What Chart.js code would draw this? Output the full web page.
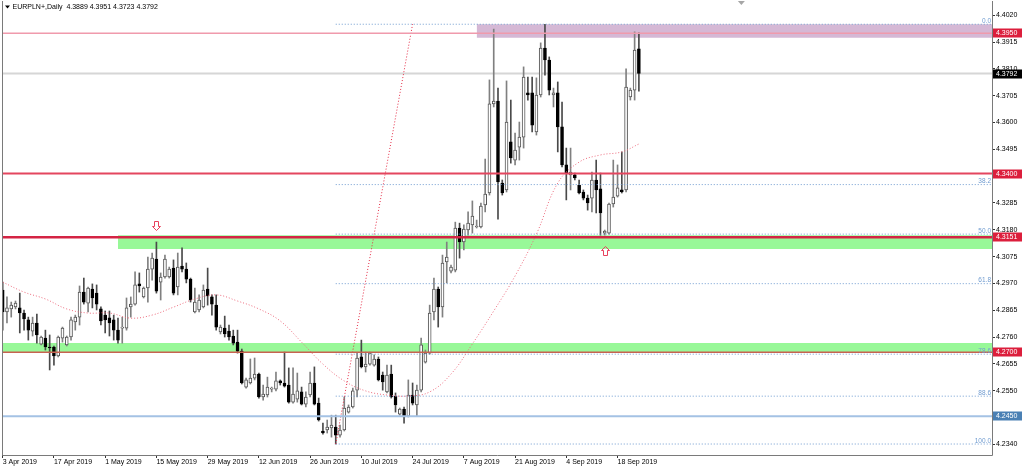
<!DOCTYPE html>
<html>
<head>
<meta charset="utf-8">
<script src="https://cdn.jsdelivr.net/npm/chart.js@4/dist/chart.umd.min.js"></script>
<style>
  html, body { margin: 0; padding: 0; background: #fff; }
</style>
</head>
<body>
<canvas id="chart" width="1024" height="469"></canvas>
<script>
// EURPLN+ daily candles, 3 Apr 2019 -> 19 Sep 2019 (broker with 6 bars a week)
const opens = [
  4.2944,4.2858,4.2870,4.2878,4.2874,4.2854,4.2827,4.2783,4.2815,4.2732,
  4.2756,4.2721,4.2721,4.2686,4.2756,4.2729,4.2760,4.2819,4.2838,4.2936,
  4.2893,4.2948,4.2932,4.2870,4.2846,4.2835,4.2827,4.2787,4.2795,4.2795,
  4.2878,4.2889,4.2968,4.2917,4.2952,4.3026,4.3065,4.2975,4.2995,4.2995,
  4.3030,4.2956,4.3038,4.3026,4.2987,4.2858,4.2866,4.2878,4.2948,4.2917,
  4.2885,4.2780,4.2795,4.2783,4.2764,4.2740,4.2705,4.2564,4.2580,4.2599,
  4.2615,4.2525,4.2533,4.2556,4.2556,4.2588,4.2580,4.2572,4.2505,4.2517,
  4.2545,4.2497,4.2533,4.2580,4.2501,4.2392,4.2396,4.2404,4.2407,4.2376,
  4.2396,4.2466,4.2486,4.2552,4.2682,4.2643,4.2654,4.2650,4.2674,4.2611,
  4.2545,4.2615,4.2529,4.2458,4.2478,4.2450,4.2533,4.2494,4.2552,4.2662,
  4.2697,4.2858,4.2948,4.2878,4.3054,4.3018,4.3022,4.3187,4.3132,4.3179,
  4.3199,4.3191,4.3191,4.3277,4.3324,4.3673,4.3684,4.3363,4.3336,4.3524,
  4.3453,4.3504,4.3543,4.3716,4.3716,4.3563,4.3708,4.3892,4.3845,4.3708,
  4.3716,4.3583,4.3434,4.3395,4.3395,4.3355,4.3328,4.3304,4.3304,4.3375,
  4.3340,4.3167,4.3167,4.3281,4.3312,4.3336,4.3336,4.3700,4.3727,4.3889
];
const highs = [
  4.2975,4.2917,4.2897,4.2901,4.2932,4.2866,4.2838,4.2838,4.2850,4.2764,
  4.2787,4.2768,4.2725,4.2764,4.2799,4.2764,4.2838,4.2846,4.2960,4.2991,
  4.2956,4.2968,4.2964,4.2878,4.2862,4.2862,4.2846,4.2834,4.2838,4.2913,
  4.2917,4.3015,4.3011,4.2956,4.3073,4.3089,4.3132,4.3011,4.3081,4.3034,
  4.3062,4.3089,4.3109,4.3050,4.2991,4.2952,4.2925,4.2964,4.3030,4.2925,
  4.2925,4.2807,4.2842,4.2807,4.2787,4.2787,4.2713,4.2599,4.2674,4.2678,
  4.2619,4.2572,4.2603,4.2564,4.2623,4.2592,4.2701,4.2639,4.2639,4.2619,
  4.2564,4.2545,4.2623,4.2643,4.2521,4.2423,4.2435,4.2454,4.2454,4.2415,
  4.2525,4.2494,4.2560,4.2697,4.2748,4.2701,4.2701,4.2690,4.2682,4.2623,
  4.2650,4.2650,4.2541,4.2482,4.2486,4.2592,4.2580,4.2572,4.2756,4.2709,
  4.2885,4.2991,4.2956,4.3081,4.3132,4.3042,4.3210,4.3206,4.3199,4.3250,
  4.3293,4.3218,4.3285,4.3457,4.3767,4.3966,4.3735,4.3375,4.3763,4.3688,
  4.3559,4.3602,4.3818,4.3778,4.3778,4.3775,4.3912,4.3985,4.3857,4.3735,
  4.3759,4.3680,4.3500,4.3500,4.3402,4.3375,4.3336,4.3316,4.3406,4.3453,
  4.3402,4.3179,4.3285,4.3453,4.3434,4.3485,4.3810,4.3735,4.3955,4.3951
];
const lows = [
  4.2787,4.2815,4.2838,4.2870,4.2776,4.2787,4.2748,4.2764,4.2736,4.2729,
  4.2709,4.2631,4.2650,4.2682,4.2740,4.2725,4.2748,4.2787,4.2807,4.2889,
  4.2858,4.2874,4.2866,4.2807,4.2776,4.2764,4.2748,4.2736,4.2736,4.2787,
  4.2838,4.2885,4.2936,4.2913,4.2897,4.2983,4.2932,4.2905,4.2991,4.2991,
  4.2925,4.2925,4.3015,4.2972,4.2897,4.2854,4.2858,4.2874,4.2885,4.2846,
  4.2787,4.2772,4.2760,4.2748,4.2729,4.2697,4.2576,4.2560,4.2576,4.2592,
  4.2521,4.2513,4.2525,4.2545,4.2549,4.2572,4.2564,4.2501,4.2501,4.2505,
  4.2494,4.2486,4.2525,4.2494,4.2431,4.2380,4.2384,4.2368,4.2341,4.2368,
  4.2392,4.2462,4.2482,4.2525,4.2639,4.2623,4.2650,4.2646,4.2588,4.2552,
  4.2541,4.2521,4.2466,4.2454,4.2423,4.2447,4.2494,4.2450,4.2545,4.2658,
  4.2693,4.2827,4.2799,4.2838,4.2972,4.3011,4.3015,4.3069,4.3101,4.3159,
  4.3167,4.3187,4.3187,4.3250,4.3316,4.3661,4.3222,4.3316,4.3328,4.3441,
  4.3434,4.3453,4.3500,4.3688,4.3563,4.3551,4.3700,4.3786,4.3708,4.3661,
  4.3485,4.3426,4.3297,4.3336,4.3375,4.3320,4.3297,4.3257,4.3250,4.3246,
  4.3159,4.3159,4.3163,4.3269,4.3308,4.3324,4.3328,4.3688,4.3688,4.3723
];
const closes = [
  4.2858,4.2874,4.2885,4.2893,4.2854,4.2831,4.2787,4.2815,4.2768,4.2760,
  4.2721,4.2717,4.2686,4.2760,4.2795,4.2760,4.2827,4.2838,4.2936,4.2897,
  4.2952,4.2913,4.2889,4.2823,4.2827,4.2815,4.2787,4.2748,4.2799,4.2874,
  4.2889,4.2964,4.2960,4.2952,4.3026,4.3069,4.2940,4.2995,4.3065,4.3026,
  4.2932,4.3034,4.3026,4.2987,4.2905,4.2897,4.2905,4.2944,4.2921,4.2889,
  4.2799,4.2799,4.2772,4.2760,4.2736,4.2705,4.2580,4.2592,4.2599,4.2615,
  4.2525,4.2537,4.2564,4.2560,4.2588,4.2580,4.2568,4.2505,4.2537,4.2549,
  4.2497,4.2525,4.2580,4.2497,4.2435,4.2384,4.2407,4.2415,4.2376,4.2396,
  4.2482,4.2486,4.2549,4.2678,4.2643,4.2654,4.2697,4.2674,4.2592,4.2584,
  4.2611,4.2525,4.2494,4.2478,4.2447,4.2533,4.2501,4.2552,4.2729,4.2697,
  4.2854,4.2948,4.2878,4.3050,4.3073,4.3034,4.3187,4.3132,4.3183,4.3206,
  4.3234,4.3195,4.3273,4.3320,4.3673,4.3684,4.3367,4.3324,4.3602,4.3461,
  4.3492,4.3543,4.3778,4.3708,4.3590,4.3708,4.3892,4.3845,4.3727,4.3716,
  4.3583,4.3434,4.3402,4.3406,4.3383,4.3324,4.3304,4.3285,4.3375,4.3336,
  4.3246,4.3175,4.3281,4.3308,4.3344,4.3328,4.3739,4.3727,4.3884,4.3792
];

// moving average read at a few bars
const maIdx = [0,5,10,15,20,25,30,35,40,45,50,55,60,65,70,75,80,85,90,95,100,105,110,115,120,125,130,135,140,145,149];
const maVal = [4.2975,4.2936,4.2909,4.2870,4.2854,4.2854,4.2834,4.2846,4.2877,4.2909,4.2925,4.2901,4.2870,4.2823,4.2740,
               4.2654,4.2588,4.2549,4.2533,4.2529,4.2545,4.2615,4.2733,4.2862,4.2999,4.3163,4.3363,4.3445,4.3473,4.3485,4.3516];

// x axis
const dateIdx = [0,12,24,36,48,60,72,84,96,108,120,132,144];
const dateLabels = ["3 Apr 2019","17 Apr 2019","1 May 2019","15 May 2019","29 May 2019","12 Jun 2019","26 Jun 2019",
                    "10 Jul 2019","24 Jul 2019","7 Aug 2019","21 Aug 2019","4 Sep 2019","18 Sep 2019"];
// y axis
const yTicks = [4.4020,4.3915,4.3810,4.3705,4.3600,4.3495,4.3390,4.3285,4.3180,4.3075,4.2970,4.2865,4.2760,4.2655,4.2550,4.2445,4.2340];

// horizontal levels drawn on the chart
const levelVals   = [4.3950, 4.3792, 4.3400, 4.3151, 4.2700, 4.2450];
const levelColors = ['#f09aac', '#d6d6d6', '#e4465f', '#d42444', '#c76250', '#a4c2e4'];
const levelWidths = [1.5, 2, 2, 2.5, 1.5, 2];
const levelBoxes  = ['#dc1e3c', '#000000', '#dc1e3c', '#dc1e3c', '#dc1e3c', '#4a80b4'];

// zones (start bar, top, bottom); null start = left edge
const zoneFrom   = [111, 27, null];
const zoneTop    = [4.3985, 4.3159, 4.2737];
const zoneBottom = [4.3932, 4.3105, 4.2701];
const zoneColors = ['#d5b8d5', '#98f898', '#98f898'];

// fibonacci retracement
const fibLow = 4.2341, fibHigh = 4.3985;
const fibStart = 78, fibEnd = 96;
const fibLevels = [0, 38.2, 50, 61.8, 78.6, 88.6, 100];

// arrows
const arrowIdx = [36, 141];
const arrowVal = [4.3195, 4.3101];
const arrowUp  = [false, true];

const shiftBar = 173;
const X_MIN = -0.164, X_MAX = 231.7;
const Y_MIN = 4.2298, Y_MAX = 4.4076;
const FONT = "'Liberation Sans', Arial, sans-serif";

const bull = opens.map((o, i) => closes[i] >= o);
const lastI = closes.length - 1;

const datasets = [];

zoneFrom.forEach((f, k) => {
  datasets.push({
    type: 'line',
    data: [{x: f === null ? X_MIN : f, y: zoneTop[k]}, {x: X_MAX, y: zoneTop[k]}],
    fill: {value: zoneBottom[k]},
    backgroundColor: zoneColors[k],
    borderWidth: 0, pointRadius: 0,
    order: 30
  });
});

// bid line behind the candles
datasets.push({
  type: 'line',
  data: [{x: X_MIN, y: levelVals[1]}, {x: X_MAX, y: levelVals[1]}],
  borderColor: levelColors[1], borderWidth: levelWidths[1], pointRadius: 0, order: 25
});

// wicks
datasets.push({
  type: 'bar',
  data: lows.map((l, i) => ({x: i, y: [l, highs[i]]})),
  backgroundColor: bull.map(b => b ? '#808080' : '#4a4a4a'),
  barThickness: 1, grouped: false, order: 11
});
// bodies
datasets.push({
  type: 'bar',
  data: opens.map((o, i) => ({x: i, y: [o, closes[i]]})),
  backgroundColor: bull.map(b => b ? '#ffffff' : '#000000'),
  borderColor: bull.map(b => b ? '#555555' : '#000000'),
  borderWidth: 1, borderSkipped: false, minBarLength: 1,
  barThickness: 3, grouped: false, order: 10
});

// moving average
datasets.push({
  type: 'line',
  data: maIdx.map((v, i) => ({x: v, y: maVal[i]})),
  borderColor: '#ec6a7c', borderWidth: 1, borderDash: [1, 2],
  pointRadius: 0, tension: 0.4, order: 5
});

// fib levels + trend line
fibLevels.forEach(p => {
  const v = fibHigh - p / 100 * (fibHigh - fibLow);
  datasets.push({
    type: 'line',
    data: [{x: fibStart, y: v}, {x: X_MAX, y: v}],
    borderColor: '#6f9bd0', borderWidth: 1, borderDash: [1, 2],
    pointRadius: 0, order: 6
  });
});
datasets.push({
  type: 'line',
  data: [{x: fibStart, y: fibLow}, {x: fibEnd, y: fibHigh}],
  borderColor: '#e42a44', borderWidth: 1, borderDash: [1, 2],
  pointRadius: 0, order: 4
});

// horizontal levels on top
levelVals.forEach((v, k) => {
  if (k === 1) return;
  datasets.push({
    type: 'line',
    data: [{x: X_MIN, y: v}, {x: X_MAX, y: v}],
    borderColor: levelColors[k], borderWidth: levelWidths[k],
    pointRadius: 0, order: 2
  });
});

const extras = {
  id: 'extras',
  afterDraw(chart) {
    const {ctx, chartArea: a, scales: {x, y}} = chart;
    ctx.save();

    // frame
    ctx.strokeStyle = '#7a7a7a';
    ctx.lineWidth = 1;
    ctx.beginPath();
    ctx.moveTo(a.left + 0.5, a.top);
    ctx.lineTo(a.left + 0.5, a.bottom + 0.5);
    ctx.lineTo(a.right + 0.5, a.bottom + 0.5);
    ctx.lineTo(a.right + 0.5, a.top);
    ctx.stroke();

    // fib labels
    ctx.font = '6.5px ' + FONT;
    ctx.fillStyle = '#6f9bd0';
    ctx.textAlign = 'right';
    ctx.textBaseline = 'bottom';
    fibLevels.forEach(p => {
      const v = fibHigh - p / 100 * (fibHigh - fibLow);
      ctx.fillText(p.toFixed(1), a.right - 1, y.getPixelForValue(v));
    });

    // arrows
    ctx.strokeStyle = '#e8405c';
    ctx.lineWidth = 1;
    arrowIdx.forEach((ix, k) => {
      const cx = Math.round(x.getPixelForValue(ix)) + 0.5;
      const cy = Math.round(y.getPixelForValue(arrowVal[k])) + 0.5;
      const s = arrowUp[k] ? -1 : 1;
      ctx.beginPath();
      ctx.moveTo(cx - 2, cy - 5 * s);
      ctx.lineTo(cx + 2, cy - 5 * s);
      ctx.lineTo(cx + 2, cy);
      ctx.lineTo(cx + 4, cy);
      ctx.lineTo(cx, cy + 4 * s);
      ctx.lineTo(cx - 4, cy);
      ctx.lineTo(cx - 2, cy);
      ctx.closePath();
      ctx.stroke();
    });

    // price boxes on the axis
    ctx.font = '7px ' + FONT;
    ctx.textAlign = 'left';
    ctx.textBaseline = 'middle';
    levelVals.forEach((v, k) => {
      const py = Math.round(y.getPixelForValue(v));
      ctx.fillStyle = levelBoxes[k];
      ctx.fillRect(a.right + 1, py - 4.5, 29, 9);
      ctx.fillStyle = '#ffffff';
      ctx.fillText(v.toFixed(4), a.right + 4, py + 0.5);
    });

    // title
    ctx.fillStyle = '#000';
    ctx.beginPath();
    ctx.moveTo(5, 5.5); ctx.lineTo(10, 5.5); ctx.lineTo(7.5, 8.5);
    ctx.closePath(); ctx.fill();
    ctx.font = '7px ' + FONT;
    ctx.textBaseline = 'middle';
    const ohlc = [opens[lastI], highs[lastI], lows[lastI], closes[lastI]].map(v => v.toFixed(4)).join(' ');
    ctx.fillText('EURPLN+,Daily  ' + ohlc, 12.5, 7.5);

    // chart shift marker
    const sx = x.getPixelForValue(shiftBar);
    ctx.fillStyle = '#a6a6a6';
    ctx.beginPath();
    ctx.moveTo(sx - 3.5, 1); ctx.lineTo(sx + 3.5, 1); ctx.lineTo(sx, 5);
    ctx.closePath(); ctx.fill();

    ctx.restore();
  }
};

new Chart(document.getElementById('chart'), {
  type: 'bar',
  data: {datasets: datasets},
  options: {
    responsive: false,
    animation: false,
    devicePixelRatio: 1,
    layout: {padding: {left: 2, top: 1, right: 0, bottom: 0}},
    plugins: {legend: {display: false}, tooltip: {enabled: false}, title: {display: false}},
    scales: {
      x: {
        type: 'linear', min: X_MIN, max: X_MAX, offset: false,
        grid: {drawOnChartArea: false, offset: false, tickLength: 3, color: '#333'},
        border: {display: false},
        afterBuildTicks: s => { s.ticks = dateIdx.map(v => ({value: v})); },
        afterFit: s => { s.height = 14; s.paddingLeft = 0; s.paddingRight = 0; },
        ticks: {
          align: 'start', maxRotation: 0, autoSkip: false, padding: 0,
          color: '#000', font: {family: FONT, size: 7},
          callback: (v, i) => dateLabels[i]
        }
      },
      y: {
        type: 'linear', position: 'right', min: Y_MIN, max: Y_MAX,
        grid: {drawOnChartArea: false, tickLength: 3, color: '#333'},
        border: {display: false},
        afterBuildTicks: s => { s.ticks = yTicks.map(v => ({value: v})); },
        afterFit: s => { s.width = 32; s.paddingTop = 0; s.paddingBottom = 0; },
        ticks: {
          padding: 1, color: '#000', font: {family: FONT, size: 7},
          callback: v => v.toFixed(4)
        }
      }
    }
  },
  plugins: [extras]
});
</script>
</body>
</html>
